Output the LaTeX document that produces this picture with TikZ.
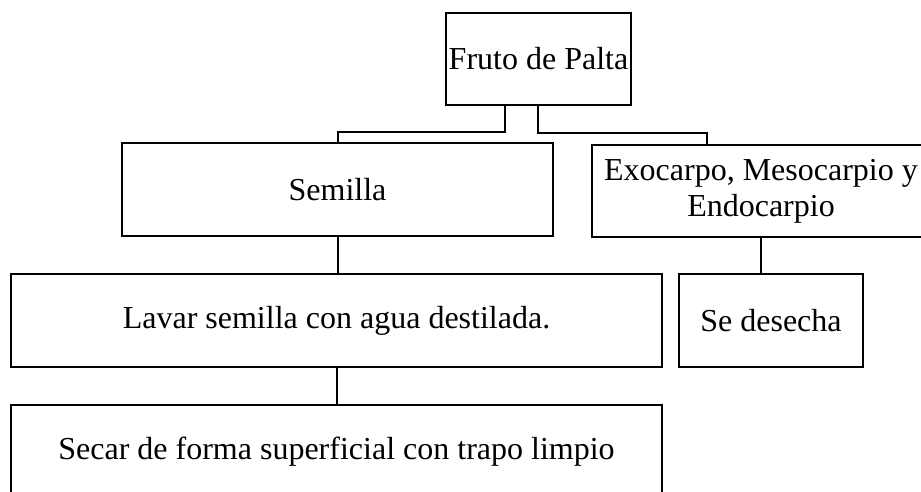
\documentclass[tikz,border=0pt]{standalone}
\usepackage{fontspec}
\setmainfont{Liberation Serif}
\begin{document}
\begin{tikzpicture}[x=1pt,y=-1pt,
  box/.style={draw=black,line width=2pt,rectangle,inner sep=0pt,align=center,
    font=\fontsize{32}{36}\selectfont},
  conn/.style={draw=black,line width=2pt}]
\useasboundingbox (0,0) rectangle (921,492);
\clip (0,0) rectangle (921,492);
\node[box,minimum width=185pt,minimum height=92pt] (fruto) at (538.5,59) {Fruto de Palta};
\node[box,minimum width=431pt,minimum height=93pt] (semilla) at (337.5,189.5) {Semilla};
\node[box,minimum width=338pt,minimum height=92pt] (exo) at (761,191) {Exocarpo, Mesocarpio y\\Endocarpio};
\node[box,minimum width=651pt,minimum height=93pt] (lavar) at (336.5,320.5) {Lavar semilla con agua destilada.};
\node[box,minimum width=184pt,minimum height=93pt] (sed) at (771,320.5) {Se desecha};
\node[box,minimum width=651pt,minimum height=93pt] (secar) at (336.5,451.5) {Secar de forma superficial con trapo limpio};
\draw[conn] ([xshift=-33.5pt]fruto.south) |- ([yshift=10pt]semilla.north) -- (semilla.north);
\draw[conn] ([xshift=-0.5pt]fruto.south) |- ([xshift=-54pt,yshift=11pt]exo.north) -- ([xshift=-54pt]exo.north);
\draw[conn] (semilla.south) -- (semilla.south |- lavar.north);
\draw[conn] (lavar.south) -- (lavar.south |- secar.north);
\draw[conn] (exo.south) -- (exo.south |- sed.north);
\end{tikzpicture}
\end{document}
